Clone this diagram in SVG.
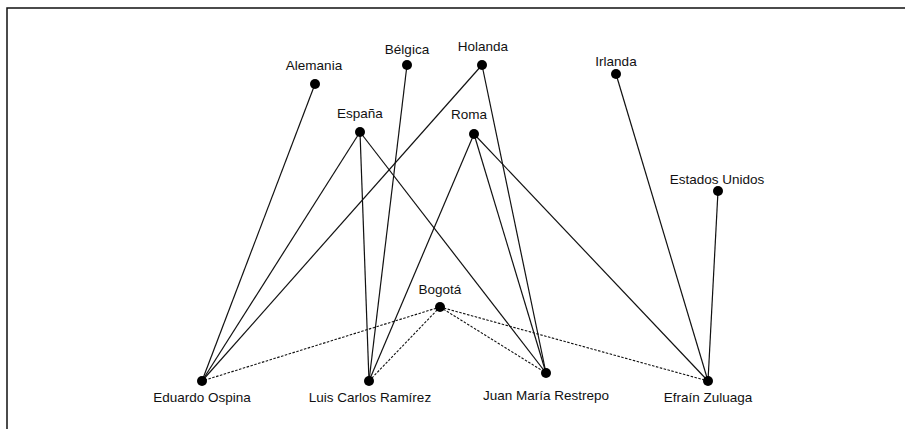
<svg xmlns="http://www.w3.org/2000/svg" width="905" height="429" viewBox="0 0 905 429">
<style>
.lbl{font-family:"Liberation Sans",Arial,sans-serif;font-size:13.5px;fill:#111;text-anchor:middle}
.e{stroke:#111;stroke-width:1.2;fill:none}
.d{stroke:#111;stroke-width:1.1;fill:none;stroke-dasharray:2.5 1.5}
.dot{fill:#000}
</style>
<rect width="905" height="429" fill="#fff"/>
<path d="M7,429 V8 H905" fill="none" stroke="#111" stroke-width="1.5"/>
<g id="connectors">
<line class="e" x1="315" y1="84" x2="202" y2="381"/>
<line class="e" x1="360" y1="132" x2="202" y2="381"/>
<line class="e" x1="482" y1="65" x2="202" y2="381"/>
<line class="e" x1="360" y1="132" x2="369" y2="381"/>
<line class="e" x1="407" y1="65" x2="369" y2="381"/>
<line class="e" x1="474" y1="134" x2="369" y2="381"/>
<line class="e" x1="360" y1="132" x2="546" y2="373"/>
<line class="e" x1="474" y1="134" x2="546" y2="373"/>
<line class="e" x1="482" y1="65" x2="546" y2="373"/>
<line class="e" x1="474" y1="134" x2="708" y2="381"/>
<line class="e" x1="616" y1="74" x2="708" y2="381"/>
<line class="e" x1="718" y1="191" x2="708" y2="381"/>
<line class="d" x1="440" y1="307" x2="202" y2="381"/>
<line class="d" x1="440" y1="307" x2="369" y2="381"/>
<line class="d" x1="440" y1="307" x2="546" y2="373"/>
<line class="d" x1="440" y1="307" x2="708" y2="381"/>
</g>
<g id="alemania"><circle class="dot" cx="315" cy="84" r="5"/><text class="lbl" x="314" y="70">Alemania</text></g>
<g id="belgica"><circle class="dot" cx="407" cy="65" r="5"/><text class="lbl" x="407" y="54">Bélgica</text></g>
<g id="holanda"><circle class="dot" cx="482" cy="65" r="5"/><text class="lbl" x="483" y="51">Holanda</text></g>
<g id="irlanda"><circle class="dot" cx="616" cy="74" r="5"/><text class="lbl" x="616" y="66">Irlanda</text></g>
<g id="espana"><circle class="dot" cx="360" cy="132" r="5"/><text class="lbl" x="360" y="118">España</text></g>
<g id="roma"><circle class="dot" cx="474" cy="134" r="5"/><text class="lbl" x="469" y="119">Roma</text></g>
<g id="estados-unidos"><circle class="dot" cx="718" cy="191" r="5"/><text class="lbl" x="717" y="184">Estados Unidos</text></g>
<g id="bogota"><circle class="dot" cx="440" cy="307" r="5"/><text class="lbl" x="440" y="294">Bogotá</text></g>
<g id="eduardo-ospina"><circle class="dot" cx="202" cy="381" r="5"/><text class="lbl" x="202" y="402">Eduardo Ospina</text></g>
<g id="luis-carlos-ramirez"><circle class="dot" cx="369" cy="381" r="5"/><text class="lbl" x="370" y="402">Luis Carlos Ramírez</text></g>
<g id="juan-maria-restrepo"><circle class="dot" cx="546" cy="373" r="5"/><text class="lbl" x="546" y="400">Juan María Restrepo</text></g>
<g id="efrain-zuluaga"><circle class="dot" cx="708" cy="381" r="5"/><text class="lbl" x="708" y="402">Efraín Zuluaga</text></g>
</svg>
